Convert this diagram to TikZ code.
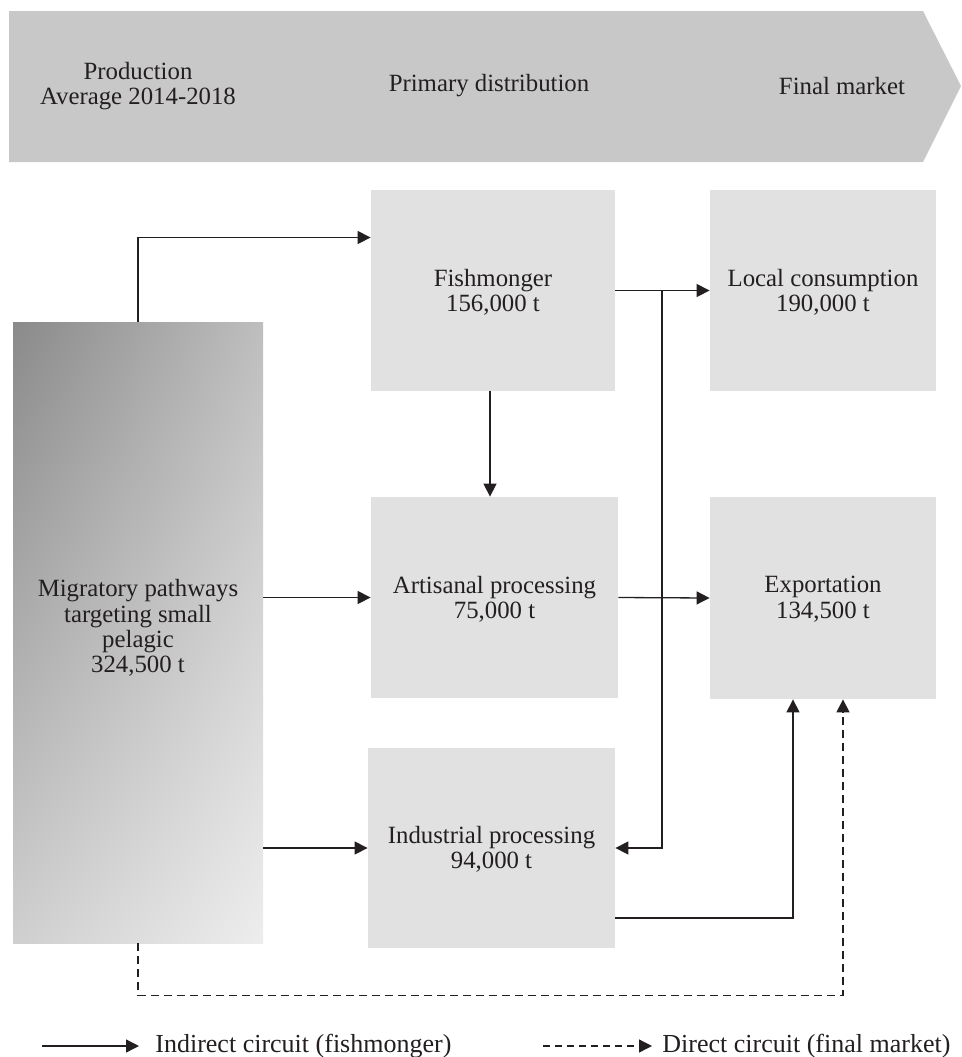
\documentclass[tikz,border=0pt]{standalone}
\usepackage{fontspec}
\setmainfont{Liberation Serif}
\usetikzlibrary{arrows.meta,shadings}
\definecolor{bannergray}{HTML}{C8C8C8}
\definecolor{boxgray}{HTML}{E1E1E1}
\definecolor{ink}{HTML}{231F20}
\definecolor{gradA}{HTML}{8A8A8A}
\definecolor{gradB}{HTML}{BEBEBE}
\definecolor{gradC}{HTML}{CFCFCF}
\definecolor{gradD}{HTML}{EDEDED}
\begin{document}
\begin{tikzpicture}[x=0.5pt,y=-0.5pt,
  box/.style={fill=boxgray, draw=none, inner sep=0pt},
  lbl/.style={align=center, inner sep=0pt, text=ink, font=\fontsize{12.4}{12.7}\selectfont},
  leglbl/.style={lbl, font=\fontsize{13}{13.5}\selectfont},
  flow/.style={draw=ink, line width=0.65pt, -{Triangle[length=6.5pt,width=6.5pt]}},
  direct/.style={flow, dash pattern=on 4pt off 2.5pt}]
\useasboundingbox (0,0) rectangle (962,1057);

% banner
\fill[bannergray] (9,11) -- (923,11) -- (961,86) -- (923,162) -- (9,162) -- cycle;
\node[lbl] (hprod) at (138,86) {Production\\Average 2014-2018};
\node[lbl] (hprim) at (489,86) {Primary distribution};
\node[lbl] (hfin) at (842,86) {Final market};

% boxes
\node[inner sep=0pt, minimum width=125pt, minimum height=310.5pt,
      upper left=gradA, upper right=gradB, lower left=gradC, lower right=gradD] (mig) at (138,632.5) {};
\node[lbl] at (138,628) {Migratory pathways\\targeting small\\pelagic\\324,500 t};

\node[box, minimum width=122pt, minimum height=100.5pt] (fish) at (493,290.5) {};
\node[lbl] at (493,292) {Fishmonger\\156,000 t};

\node[box, minimum width=123.5pt, minimum height=100.5pt] (art) at (494.5,597.5) {};
\node[lbl] at (494.5,599) {Artisanal processing\\75,000 t};

\node[box, minimum width=123.5pt, minimum height=100pt] (ind) at (491.5,848) {};
\node[lbl] at (491.5,849) {Industrial processing\\94,000 t};

\node[box, minimum width=113pt, minimum height=100.5pt] (loc) at (823,290.5) {};
\node[lbl] at (823,292) {Local consumption\\190,000 t};

\node[box, minimum width=113pt, minimum height=101pt] (exp) at (823,598) {};
\node[lbl] at (823,599) {Exportation\\134,500 t};

% connectors
\draw[flow] (mig.north) |- ([yshift=26.5pt]fish.west);
\draw[flow] (fish.south -| 490,0) -- (art.north -| 490,0);
\draw[flow] (mig.east |- art.west) -- (art.west);
\draw[flow] (mig.east |- ind.west) -- (ind.west);
\draw[flow] (fish.east) -- (loc.west);
\coordinate (jx) at (662,290.5);
\draw[flow] (jx) |- (ind.east);
\draw[flow] (art.east) -- (exp.west);
\draw[flow] ([yshift=-35pt]ind.east) -| ([xshift=-15pt]exp.south);
\draw[direct] (mig.south) -- ++(0,52) -| ([xshift=10pt]exp.south);

% legend
\coordinate (l1) at (42,1046);
\node[leglbl, anchor=west] (leg1) at (155,1046) {Indirect circuit (fishmonger)};
\draw[flow] (l1) -- ([xshift=-8pt]leg1.west);
\coordinate (l2) at (543,1046);
\node[leglbl, anchor=west] (leg2) at (662,1046) {Direct circuit (final market)};
\draw[flow, dash pattern=on 3.5pt off 2.5pt] (l2) -- ([xshift=-5pt]leg2.west);
\end{tikzpicture}
\end{document}
